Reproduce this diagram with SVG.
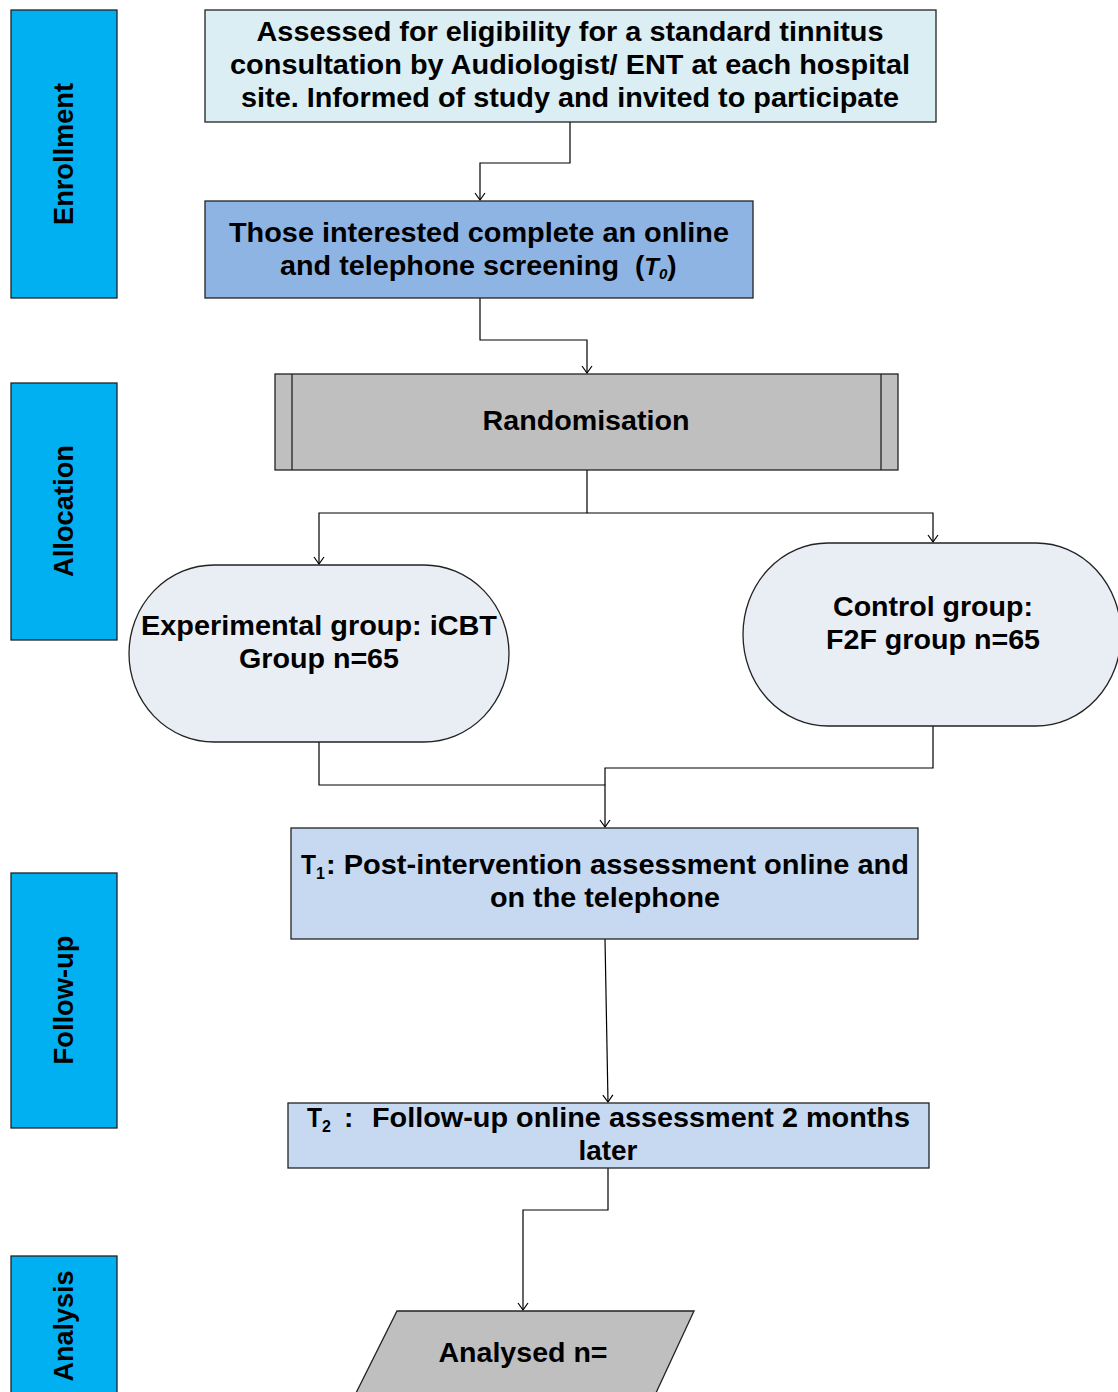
<svg xmlns="http://www.w3.org/2000/svg" width="1118" height="1392" viewBox="0 0 1118 1392">
<style>
text{font-family:"Liberation Sans",Arial,sans-serif;font-weight:bold;fill:#000;}
.t{font-size:28px;}
.c{text-anchor:middle;}
.side{fill:#00B0F0;stroke:#222;stroke-width:1.3;}
.nd{stroke:#222;stroke-width:1.3;}
.cn{fill:none;stroke:#000;stroke-width:1.2;}
</style>
<defs>
<marker id="ar" markerWidth="12" markerHeight="12" refX="10" refY="6" orient="auto" markerUnits="userSpaceOnUse" viewBox="0 0 12 12">
<path d="M3,1 L10,6 L3,11" fill="none" stroke="#000" stroke-width="1.2"/>
</marker>
</defs>
<rect width="1118" height="1392" fill="#fff"/>

<g id="lane-enrollment">
<rect class="side" x="11" y="10" width="106" height="288"/>
<text class="t c" transform="translate(73,154) rotate(-90)" textLength="142" lengthAdjust="spacingAndGlyphs">Enrollment</text>
</g>
<g id="lane-allocation">
<rect class="side" x="11" y="383" width="106" height="257"/>
<text class="t c" transform="translate(73,511) rotate(-90)" textLength="132" lengthAdjust="spacingAndGlyphs">Allocation</text>
</g>
<g id="lane-followup">
<rect class="side" x="11" y="873" width="106" height="255"/>
<text class="t c" transform="translate(73,1000) rotate(-90)" textLength="129" lengthAdjust="spacingAndGlyphs">Follow-up</text>
</g>
<g id="lane-analysis">
<rect class="side" x="11" y="1256" width="106" height="140"/>
<text class="t c" transform="translate(73,1326) rotate(-90)" textLength="111" lengthAdjust="spacingAndGlyphs">Analysis</text>
</g>

<g id="connectors">
<polyline class="cn" points="570,122 570,163 480,163 480,200" marker-end="url(#ar)"/>
<polyline class="cn" points="480,298 480,340 587,340 587,373" marker-end="url(#ar)"/>
<polyline class="cn" points="587,470 587,513 319,513 319,564" marker-end="url(#ar)"/>
<polyline class="cn" points="587,513 933,513 933,542" marker-end="url(#ar)"/>
<polyline class="cn" points="319,742 319,785 605,785 605,827" marker-end="url(#ar)"/>
<polyline class="cn" points="933,726 933,768 605,768 605,785"/>
<polyline class="cn" points="605,939 608,1102" marker-end="url(#ar)"/>
<polyline class="cn" points="608,1168 608,1210 523,1210 523,1310" marker-end="url(#ar)"/>
</g>

<g id="n-assessed">
<rect class="nd" x="205" y="10" width="731" height="112" fill="#DBEEF4"/>
<text class="t c" x="570" y="41" textLength="627" lengthAdjust="spacingAndGlyphs">Assessed for eligibility for a standard tinnitus</text>
<text class="t c" x="570" y="74" textLength="680" lengthAdjust="spacingAndGlyphs">consultation by Audiologist/ ENT at each hospital</text>
<text class="t c" x="570" y="107" textLength="658" lengthAdjust="spacingAndGlyphs">site. Informed of study and invited to participate</text>
</g>

<g id="n-screening">
<rect class="nd" x="205" y="201" width="548" height="97" fill="#8EB4E3"/>
<text class="t c" x="479" y="242" textLength="500" lengthAdjust="spacingAndGlyphs">Those interested complete an online</text>
<text class="t" x="280" y="275" textLength="339" lengthAdjust="spacingAndGlyphs">and telephone screening</text>
<text class="t" x="635" y="275">(<tspan font-style="italic" font-size="24">T</tspan><tspan font-style="italic" font-size="15" dy="4">0</tspan><tspan dy="-4">)</tspan></text>
</g>

<g id="n-random">
<rect class="nd" x="275" y="374" width="623" height="96" fill="#BFBFBF"/>
<line class="nd" x1="292" y1="374" x2="292" y2="470"/>
<line class="nd" x1="881" y1="374" x2="881" y2="470"/>
<text class="t c" x="586" y="430" textLength="207" lengthAdjust="spacingAndGlyphs">Randomisation</text>
</g>

<g id="n-experimental">
<rect class="nd" x="129" y="565" width="380" height="177" rx="85" ry="88.5" fill="#E9EDF4"/>
<text class="t c" x="319" y="635" textLength="356" lengthAdjust="spacingAndGlyphs">Experimental group: iCBT</text>
<text class="t c" x="319" y="668" textLength="160" lengthAdjust="spacingAndGlyphs">Group n=65</text>
</g>

<g id="n-control">
<rect class="nd" x="743" y="543" width="378" height="183" rx="85" ry="91.5" fill="#E9EDF4"/>
<text class="t c" x="933" y="616" textLength="200" lengthAdjust="spacingAndGlyphs">Control group:</text>
<text class="t c" x="933" y="649" textLength="214" lengthAdjust="spacingAndGlyphs">F2F group n=65</text>
</g>

<g id="n-t1">
<rect class="nd" x="291" y="828" width="627" height="111" fill="#C6D9F1"/>
<text class="t" x="301" y="874" textLength="15" lengthAdjust="spacingAndGlyphs">T</text>
<text x="316" y="879" font-size="16">1</text>
<text class="t" x="326" y="874" textLength="583" lengthAdjust="spacingAndGlyphs">: Post-intervention assessment online and</text>
<text class="t c" x="605" y="907" textLength="230" lengthAdjust="spacingAndGlyphs">on the telephone</text>
</g>

<g id="n-t2">
<rect class="nd" x="288" y="1103" width="641" height="65" fill="#C6D9F1"/>
<text class="t" x="307" y="1127" textLength="15" lengthAdjust="spacingAndGlyphs">T</text>
<text x="322" y="1132" font-size="16">2</text>
<text class="t" x="344" y="1127">:</text>
<text class="t" x="372" y="1127" textLength="538" lengthAdjust="spacingAndGlyphs">Follow-up online assessment 2 months</text>
<text class="t c" x="608" y="1160" textLength="59" lengthAdjust="spacingAndGlyphs">later</text>
</g>

<g id="n-analysed">
<polygon class="nd" points="397,1311 694,1311 655,1395 355,1395" fill="#BFBFBF"/>
<text class="t c" x="523" y="1362" textLength="169" lengthAdjust="spacingAndGlyphs">Analysed n=</text>
</g>
</svg>
